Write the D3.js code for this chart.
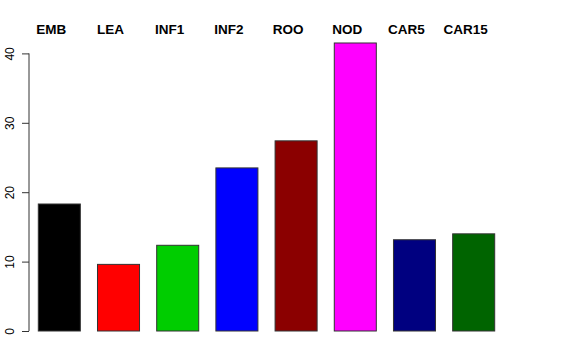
<!DOCTYPE html>
<html lang="en">
<head>
<meta charset="UTF-8">
<script src="https://d3js.org/d3.v7.min.js"></script>
<style>
  body { margin: 0; background: white; }
  svg text { font-family: "Liberation Sans", Arial, sans-serif; }
</style>
</head>
<body>
<script>
  var categories = ["EMB", "LEA", "INF1", "INF2", "ROO", "NOD", "CAR5", "CAR15"];
  var values = [18.3, 9.6, 12.35, 23.5, 27.4, 41.5, 13.15, 14.0];
  var colors = ["#000000", "#ff0000", "#00cd00", "#0000ff", "#8b0000", "#ff00ff", "#000080", "#006400"];
  var yTicks = [0, 10, 20, 30, 40];

  var width = 576, height = 360;

  var svg = d3.select("body").append("svg")
    .attr("width", width)
    .attr("height", height);

  var x = d3.scaleBand()
    .domain(categories)
    .range([38.3, 494.7])
    .paddingInner(0.29)
    .paddingOuter(0);

  var y = d3.scaleLinear()
    .domain([0, 40])
    .range([331, 53.4]);

  // y axis, R style
  var yAxis = svg.append("g")
    .attr("transform", "translate(29,0)")
    .call(d3.axisLeft(y).tickValues(yTicks).tickSize(7).tickPadding(9));
  yAxis.select(".domain").attr("stroke", "#333").attr("d", "M0," + y(0) + "V" + y(40));
  yAxis.selectAll(".tick line").attr("stroke", "#333");
  yAxis.selectAll(".tick text")
    .attr("font-size", "12px")
    .attr("font-family", "Liberation Sans, Arial, sans-serif")
    .attr("fill", "#000")
    .attr("text-anchor", "middle")
    .attr("x", null)
    .attr("dy", null)
    .attr("transform", "translate(-15,0) rotate(-90)");

  svg.selectAll("rect.bar")
    .data(values)
    .enter().append("rect")
    .attr("class", "bar")
    .attr("x", (d, i) => x(categories[i]))
    .attr("y", d => y(d))
    .attr("width", x.bandwidth())
    .attr("height", d => y(0) - y(d))
    .attr("fill", (d, i) => colors[i])
    .attr("stroke", "#333")
    .attr("stroke-width", 1);

  svg.selectAll("text.cat")
    .data(categories)
    .enter().append("text")
    .attr("class", "cat")
    .attr("x", d => x(d) + x.bandwidth() / 2 - 8)
    .attr("y", 34)
    .attr("text-anchor", "middle")
    .attr("font-weight", "bold")
    .attr("font-size", "13.5px")
    .text(d => d);
</script>
</body>
</html>
